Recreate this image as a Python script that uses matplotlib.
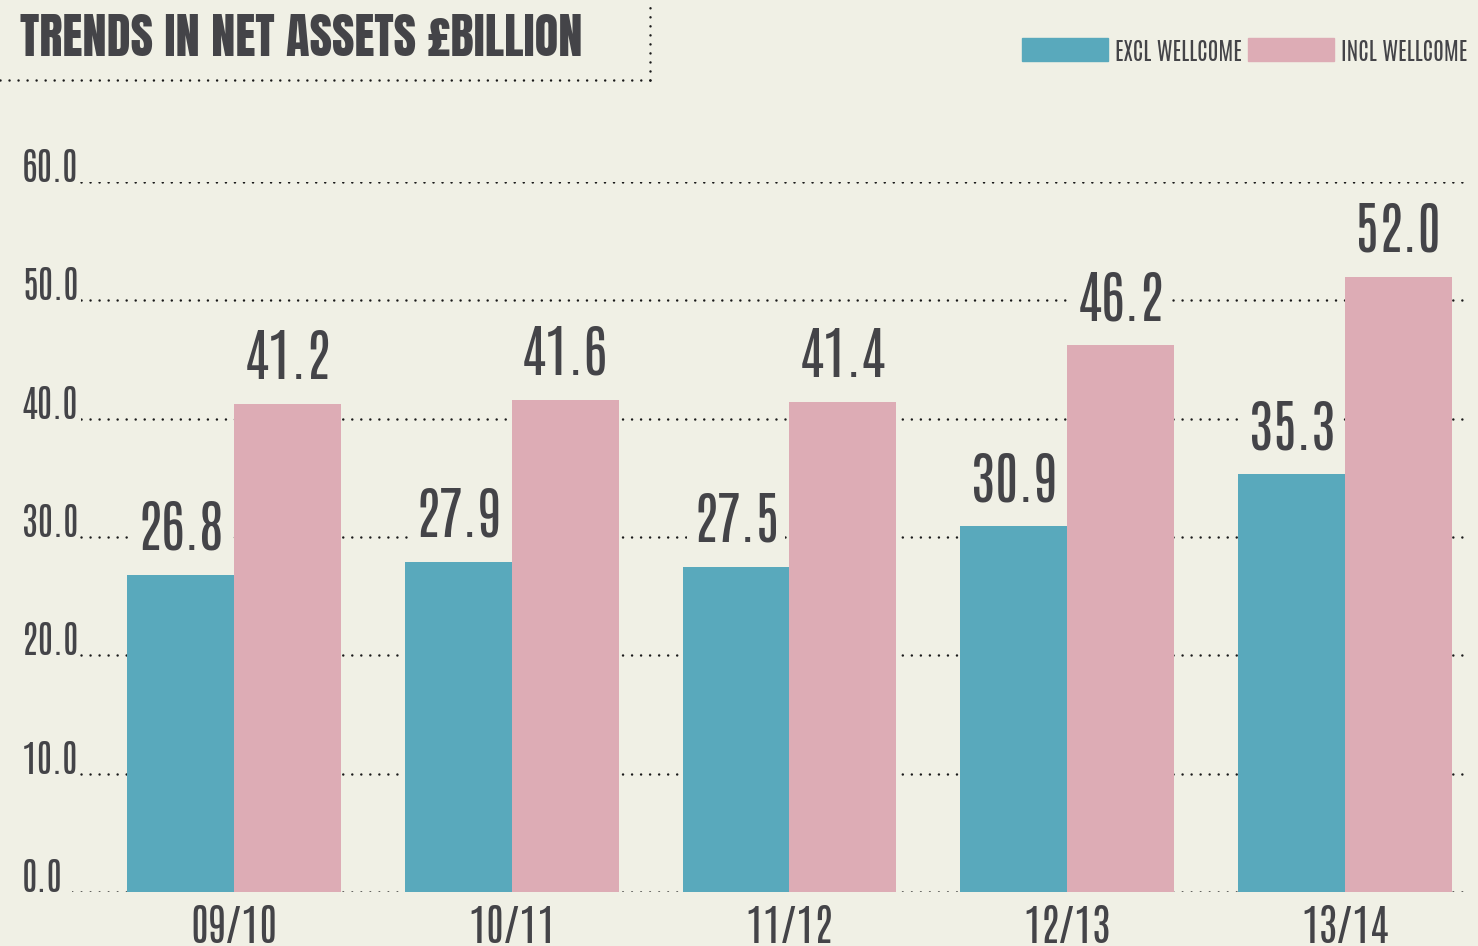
import matplotlib
matplotlib.use("Agg")
import matplotlib.pyplot as plt
import numpy as np
from matplotlib.patches import Rectangle
from matplotlib.lines import Line2D

years = ["09/10", "10/11", "11/12", "12/13", "13/14"]
excl_wellcome = [26.8, 27.9, 27.5, 30.9, 35.3]
incl_wellcome = [41.2, 41.6, 41.4, 46.2, 52.0]
yticks = [0, 10, 20, 30, 40, 50, 60]

BG = "#f0f0e5"
TEAL = "#59a9bc"
PINK = "#ddacb5"
INK = "#444448"
NUM_FONT = ["Antonio", "League Gothic", "DejaVu Sans"]
TITLE_FONT = ["Anton", "League Gothic", "DejaVu Sans"]

W, H = 1478, 946
fig = plt.figure(figsize=(W / 100, H / 100), dpi=100, facecolor=BG)
ax = fig.add_axes([72 / W, 54 / H, 1398 / W, 710 / H])
ax.set_facecolor(BG)

x = np.arange(len(years))
bw = 0.385
dots = (0, (0.01, 3.6))
dot_kw = dict(color="#1a1a1a", lw=1.8, ls=dots, dash_capstyle="round")

# dotted grid
for t in yticks:
    ax.axhline(t, zorder=0, **dot_kw)

ax.bar(x - bw / 2, excl_wellcome, bw, color=TEAL, zorder=2)
ax.bar(x + bw / 2, incl_wellcome, bw, color=PINK, zorder=2)

for xs, vals in [(x - bw / 2, excl_wellcome), (x + bw / 2, incl_wellcome)]:
    for xi, v in zip(xs, vals):
        ax.annotate(f"{v:.1f}", (xi, v), xytext=(0, 18), textcoords="offset points",
                    ha="center", va="baseline", fontsize=41, family=NUM_FONT, color=INK,
                    zorder=3, bbox=dict(boxstyle="square,pad=0.1", fc=BG, ec="none"))

ax.set_xlim(-0.583, 4.45)
ax.set_ylim(0, 60)
for s in ax.spines.values():
    s.set_visible(False)
ax.set_yticks([])
ax.set_xticks(x)
ax.set_xticklabels(years, fontsize=31, family=NUM_FONT, color=INK)
ax.tick_params(axis="x", length=0, pad=9)

ytr = ax.get_yaxis_transform()
for t in yticks:
    ax.text(-50 / 1398, t, f"{t:.1f}", transform=ytr, ha="left", va="baseline",
            fontsize=27, family=NUM_FONT, color=INK, clip_on=False, zorder=3,
            bbox=dict(boxstyle="square,pad=0.05", fc=BG, ec="none"))

# title with dotted frame
fig.text(20 / W, 1 - 56 / H, "TRENDS IN NET ASSETS £BILLION", ha="left", va="baseline",
         fontsize=35, family=TITLE_FONT, color=INK)
fig.add_artist(Line2D([0, 650 / W], [1 - 80 / H] * 2, transform=fig.transFigure, **dot_kw))
fig.add_artist(Line2D([650 / W] * 2, [1 - 80 / H, 1], transform=fig.transFigure, **dot_kw))

# legend
for px, col, lab in [(1022, TEAL, "EXCL WELLCOME"), (1248, PINK, "INCL WELLCOME")]:
    fig.add_artist(Rectangle((px / W, 1 - 61 / H), 86 / W, 23 / H,
                             transform=fig.transFigure, color=col))
    fig.text((px + 93) / W, 1 - 61 / H, lab, ha="left", va="baseline",
             fontsize=17, family=NUM_FONT, color=INK)

fig.savefig("out.png", dpi=100, facecolor=BG)
